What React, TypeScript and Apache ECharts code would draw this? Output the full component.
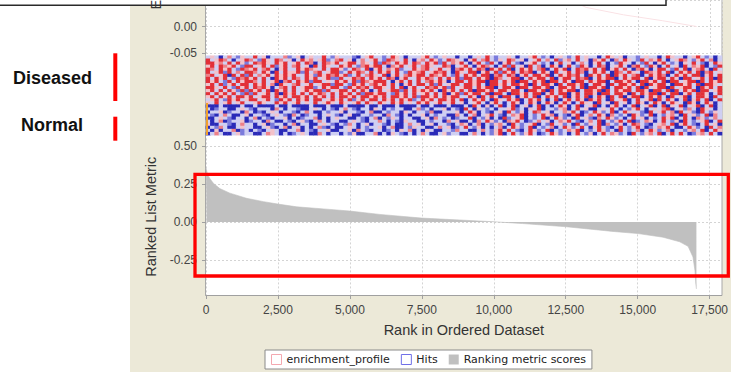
import { useEffect, useRef } from 'react';
import * as echarts from 'echarts';

// ---------- data ----------
const rankMax = 17917;
const xTickValues = [0, 2500, 5000, 7500, 10000, 12500, 15000, 17500];
const metricTicks = [-0.25, 0, 0.25, 0.5];

// Ranking metric scores (rank, value)
const metricRanks = [0, 20, 60, 140, 255, 480, 830, 1410, 2000, 2500, 3150, 4300, 5000, 6040, 7490, 9980, 11000, 12520, 14140, 15010, 15880, 16460, 16750, 16920, 16990, 17015, 17040];
const metricValues = [0.355, 0.34, 0.31, 0.285, 0.255, 0.22, 0.19, 0.156, 0.134, 0.118, 0.1, 0.083, 0.072, 0.05, 0.026, 0.002, -0.01, -0.031, -0.062, -0.076, -0.1, -0.13, -0.16, -0.23, -0.32, -0.4, -0.44];

// faint visible tail of the enrichment profile
const esRanks = [11800, 13200, 14500, 15840, 17040];
const esValues = [0.07, 0.036, 0.022, 0.011, 0.0];

// heatmap levels: B dark blue, b blue, l lavender, p pink, r light red, R red
const levelKeys = ['B', 'b', 'l', 'p', 'r', 'R'];
const levelColors = ['#2a2ab8', '#7b7bdc', '#cfcff2', '#f3c2ca', '#ee8088', '#e23038'];

const diseasedRows = [
  'lplBlrlbpl lRlpBlllrb lpBlpllRlb plllbBlpRl lblRplBlll pRlblpllBl lBlplRlbll plBllpRlbl BlplblRlpl lBlRplpBll blpllBlRpl lBlpRlblBl',
  'RlpRrlBlpR rlbRplRrlp BlRprlpRbl rRlpBlrlpR lbRrplRlBp rlRpblRrpl BpRlrRlbpl RrlpBlpRlr lRbprlRlpB rpRlBrlRpl bRlrpRlBlp RrlbpRlrBl',
  'RRprlRlRpb lRrRplRpRl pRlRrBlRrp RlpRRlrplR bRrlRpRlRr lRpRbRlrpR lBpRlbRlBp RlbBlpRlbl BlRlpBlrlB pRlBlbRplB lbRlBpRlbl BplRlbBlRp',
  'pRlRrpRlbR RlpRlRbpRl rRlpBRlRpl lRpRlbrRpR RlBrpRlpRl rRpllRrBlp RlBpRrlBlR bRlpBRlrBl RpBlRlbRpB lRrBlpRlBr RlbRpBlRlp BRlrpRBlbR',
  'RrlRpRlbRr pRlrRlBpRl lRpRrplRlR RpblRrlRBp RlrpRbllRp rRlpRlpBrR pRlRrBRpRl RBlRpRlrRB lRpRBlRrRp RlRBpRlRlB rRpBlRRlbR lRBprRlBRl',
  'RlpRbRlrlR RrlRpBRlRp pRbRlrRlpR RblRpRrlRl RpRlRlbRpr RlpRrRlBRp lRRBpRlRbR pRlRrRBlRp BRlpRlRrBl RpRlBRrlRp lBRrpRlRBl RpRlRBrRlp',
  'rRlpRBRlRb RlrpRlRpRp RllRpbRpRr RpRblRlrRp lRBpRlrRpR RlRrpRlbRl RpRlRRBrRl RrBpRlRRpR BlRpRrRlBR pRlRBRpRlr RBlRpRrBlR pRlRRBpRlR',
  'RlRpRlbRrR pRlRlBRpRl RrlRpRlpRb bRlpRrRlRp RlRrBpRllR pRrlRlRpRb RRlRpRBRrl pRRBlRpRRl RBpRRlRrRB lRpRRBlRpR RlRBpRRlRp BRRlpRlRBR',
  'RpRlbRlRpR RrlRlpRBrR lRpRbRRlpl RpRlRbRrpR RRlBpRlRlR lrRpRpBlRR lRpRRBRRlR pRBRRlRpRB RRlRpBRRlR pRRBlRRpRl BRRpRlRBRR lpRRBRlRpR',
  'pRlRbpRlRR lRpRlrBRpl rRlpRlpRRb RRlbRpRlrR pRlRlBpRlR RlRbRlpRRl RRpRlBRRpR lRRpRBRlRR pBRlRRpRBl RRpBRlRRpR lRBRpRRlBR RpRlRBRRpl',
  'RRplRlbRpR lRrRpBlrRl RlpRRblRpR RlbRpRrRlR RplRlRBpRl lRrRpRbRlp RRlRpRRBlR RpBRRlRRpR BlRRpRlRBR RpRBlRRpRl RBRlpRRBRl pRRlBRpRlR',
  'pRlRlRpbRb RpRlRBRpRl RlpRpRRbRl pRRlRlRpBl RlpRRbRlRp RpRlBRpRlR lRBRRpRlRR pRRlBRRpRB RlRpRRBlRR pRBRlRpRRl RRpBRRlRBR lRpRBRRlpR',
  'RlRpRlRlbR bRlpRlRBRp RlRlRpRrlR lRpRlRbRRp RRlbRpRlRl pRlRlRBpRb RpRRlRBRRl BRRpRlRRBp RlRRBpRlRR pBRRlRRpBR lRpRRBRlRR BpRlRRpBlR',
  'pRlRpRlRRp RlpRRlRpRl RRpRlRpRlR lRRpRlRRpR pRlRRpRlRb RRpRlRpRRl lRpBRlRpBR RlBpRlRBlR pRlRBpRlRB lRpBRlRBpR RBlRpRlBRl pRBlRRpBRl',
  'lpRlbRpRlp RRlpRlbRpR lRpRlRRlpR pRlRbpRlRR lRpRlRpRbl RpRlRRpRlR BlRpRlBRpl RpRBlRpRlB lRBpRlRpBR pRlBRlpRBl RlpRBRlRpB lRBpRlRBlR',
  'plRlpRlpRl lpRpllRpRl pRlplRlpRp lRplpRlRpl RplRpRlplR pRlpRlpRlp BlpRlBpRlB lRpBlRpBlR pBlRpBlRpl BRlpBRlpBl RpBlRpBlRp lBRpBlRpBl',
];

const normalRows = [
  'BBBlBBBBlB BlBBBBlBBl BBBBlBBBlB BBlBBBBlBB lBBBlBBBBl BBlBBBlBBB lBRlBpBlRB lRBlpBlRBl BlRpBlRBlp RBlBpRlBlR BlpRBlRBpl RBlpRBlRBl',
  'lBbllBBlpl bBlllBrlBl lbBBlplBlb BlrlbBllBp lBlbllBBlr blBllpBlbB RlBplblBll pRblBplRBl lbprBlRlpB BlplRlBlbp RlBlplrRBl pbrlBRplBl',
  'BllpBbllBr lBbBlplBll bBlrlBBlbl lpBllbBlrB BlbllBplBl lbrBBlllpB lRpBlbBlpB RlbpBlRrlp BllrpRlBbl RpblRBlRpl lbBRlpRlrB RlpbBRlbpl',
  'lbBlrlBBlp BllbBlplbB rlBbllBlpl bBlpBBllbl lBrlbBlBll pBlbllBBrl BlrBlpRlbB lrpRBlblRp rBlbBpRBlr lRpBrlblBR pblRBlbprl BRlpblRBrl',
  'BBlplbBllB lrBlbBllpB lBbllrBlBl pllBBlbBlr BlbplBllBB lpBrlblBbl lRBlbpBlBR blpRBlblRB lRpblBRlpb BrlRpblBlR lpBlblRpRB lRlBrpblrl',
  'lBlrBbllpB bllBrlBBlb BlpbBlrlBl lBBlplbBll rlBlbBpllB BlbllBrlpB BlBrlRpblB rpRlBblrlp BlrpRlbBlr lRBlbpRlRB blrpBlRlbp BRlblpRBlR',
  'pBBllbBlrl lBlpBbllBl rBllBBlplb BlbrlBlpBl lbBlBBlrlp BlpBllbBlr pBlrBlbprl BRlblpRBlb RlpblBRlbp lRBrlbpBlR rlbBlprlRB pRlbBlRlpB',
  'BlbrlBBlpl lBBlpbBlrB lpBlBlrbBl BBlplBlbll pBlrBBlbpl lBBlrlpBbl RlbpBlBlrB lRpblRBlbl rBlRpblRlB pRlbBlRlbp RlBblrpRlB BlRpblBRlr',
  'lBpBllrBbl BlbBlplBBl lrBlbBllpB BllpBrlbBl lBblBplrBl BplBBllbrl lBBlrlbpRl RlbBlRpblR BlblrpRBlb lRpblBRlbl rBlRpblrBl lbprlRBlRp',
  'BlrlBBlpbl lBBlrplBlB blplBBrlBl lBlbpBBllr BlBplbBlBl rlBBlpbllB BlrlBlbpRB lRlbpRlBbl RpblBlRlbp BlRlrpblBR lbprlRBlRl RlBbprlRlB',
];

const groupLabels = ['Diseased', 'Normal'];

// ---------- build ----------
const heatRows = [...diseasedRows, ...normalRows].map((r) => r.replace(/ /g, ''));
const nCols = Math.max(...heatRows.map((r) => r.length));
const heatCols = Array.from({ length: nCols }, (_, i) => String(i));
const heatRowNames = heatRows.map((_, i) => String(i));
const heatData: number[][] = [];
heatRows.forEach((row, y) => {
  row.split('').forEach((ch, x) => {
    heatData.push([x, y, levelKeys.indexOf(ch)]);
  });
});

const metricData = metricRanks.map((r, i) => [r, metricValues[i]]);
const esData = esRanks.map((r, i) => [r, esValues[i]]);

const AX_FONT = '"Liberation Sans", Arial, sans-serif';
const tickLabel = { fontFamily: AX_FONT, fontSize: 12, color: '#444' };
const splitLine = { show: true, lineStyle: { color: '#d4d4d4', type: [2, 2] as any, width: 1 } };
const tickStyle = { show: true, length: 4, lineStyle: { color: '#a0a0a0' } };

export default function App() {
  const ref = useRef<HTMLDivElement>(null);

  useEffect(() => {
    if (!ref.current) return;
    const chart = echarts.init(ref.current, null, { renderer: 'svg' });
    const option: any = {
      animation: false,
      backgroundColor: '#ffffff',
      grid: [
        { left: 206, top: -1, width: 516, height: 54 },
        { left: 206, top: 55.7, width: 516, height: 79.5 },
        { left: 206, top: 138.4, width: 516, height: 156.6 },
      ],
      xAxis: [
        {
          gridIndex: 0, type: 'value', min: 0, max: rankMax, interval: 2500,
          axisLine: { show: false }, axisTick: { show: false }, axisLabel: { show: false }, splitLine,
        },
        { gridIndex: 1, type: 'category', data: heatCols, show: false },
        {
          gridIndex: 2, type: 'value', min: 0, max: rankMax, interval: 2500,
          axisLine: { show: true, onZero: false, lineStyle: { color: '#a0a0a0' } },
          axisTick: tickStyle,
          axisLabel: {
            ...tickLabel, margin: 9, showMaxLabel: false,
            formatter: (v: number) => (xTickValues.includes(v) ? v.toLocaleString('en-US') : ''),
          },
          splitLine,
          name: 'Rank in Ordered Dataset', nameLocation: 'middle', nameGap: 27,
          nameTextStyle: { fontFamily: AX_FONT, fontSize: 14.5, color: '#333' },
        },
      ],
      yAxis: [
        {
          gridIndex: 0, type: 'value', min: -0.05, max: 0.05, interval: 0.05,
          axisLine: { show: false }, axisTick: tickStyle,
          axisLabel: { ...tickLabel, margin: 9, showMaxLabel: false, formatter: (v: number) => v.toFixed(2) },
          splitLine,
        },
        { gridIndex: 1, type: 'category', data: heatRowNames, inverse: true, show: false },
        {
          gridIndex: 2, type: 'value', min: -0.48, max: 0.55,
          axisLine: { show: false },
          axisTick: { ...tickStyle, customValues: metricTicks },
          axisLabel: { ...tickLabel, margin: 9, customValues: metricTicks, formatter: (v: number) => v.toFixed(2) },
          splitLine,
          name: 'Ranked List Metric', nameLocation: 'middle', nameGap: 46, nameRotate: 90,
          nameTextStyle: { fontFamily: AX_FONT, fontSize: 14.5, color: '#333' },
        },
      ],
      visualMap: {
        type: 'piecewise', show: false, seriesIndex: 1, dimension: 2,
        pieces: levelColors.map((c, i) => ({ value: i, color: c })),
      },
      legend: {
        left: 265, top: 350, orient: 'horizontal',
        padding: [4, 6, 4, 6], itemWidth: 10, itemHeight: 10, itemGap: 11,
        backgroundColor: '#ffffff', borderColor: '#8a8a8a', borderWidth: 1,
        selectedMode: false,
        textStyle: { fontFamily: '"DejaVu Sans", sans-serif', fontSize: 11, color: '#222' },
        data: [
          { name: 'enrichment_profile', icon: 'rect', itemStyle: { color: '#ffffff', borderColor: '#f4a8b0', borderWidth: 1 } },
          { name: 'Hits', icon: 'rect', itemStyle: { color: '#ffffff', borderColor: '#7070e8', borderWidth: 1 } },
          { name: 'Ranking metric scores', icon: 'rect', itemStyle: { color: '#c0c0c0', borderWidth: 0 } },
        ],
      },
      series: [
        {
          name: 'enrichment_profile', type: 'line', xAxisIndex: 0, yAxisIndex: 0,
          data: esData, symbol: 'none', lineStyle: { color: '#fae2e5', width: 1 }, itemStyle: { color: '#fae2e5' },
        },
        {
          name: 'Hits', type: 'heatmap', xAxisIndex: 1, yAxisIndex: 1,
          data: heatData, progressive: 0, itemStyle: { borderWidth: 0 }, emphasis: { disabled: true },
        },
        {
          name: 'Ranking metric scores', type: 'line', xAxisIndex: 2, yAxisIndex: 2,
          data: metricData, symbol: 'none',
          lineStyle: { color: '#c0c0c0', width: 0.6 }, itemStyle: { color: '#c0c0c0' },
          areaStyle: { color: '#c0c0c0', opacity: 1, origin: 'auto' },
        },
      ],
      graphic: [
        { type: 'rect', z: -20, shape: { x: 130, y: 0, width: 601, height: 372 }, style: { fill: '#ece9d8' } },
        { type: 'rect', z: -10, shape: { x: 205.5, y: -2, width: 516.5, height: 297.5 }, style: { fill: '#ffffff', stroke: '#a8a8a8', lineWidth: 1 } },
        { type: 'rect', z: 10, shape: { x: 206, y: 103, width: 2, height: 32 }, style: { fill: '#eea030' } },
        { type: 'rect', z: 100, shape: { x: -2, y: -2, width: 668, height: 7.2 }, style: { fill: '#ffffff', stroke: '#2a2a2a', lineWidth: 1.5 } },
        {
          type: 'text', z: 101, x: 155.5, y: 9.5, rotation: Math.PI / 2,
          style: { text: 'Enrichment score (ES)', fontFamily: AX_FONT, fontSize: 14.5, fill: '#333', align: 'left', verticalAlign: 'middle', textAlign: 'left', textVerticalAlign: 'middle' },
        },
        { type: 'rect', z: 50, shape: { x: 195, y: 174.3, width: 533.3, height: 101.7 }, style: { fill: 'none', stroke: '#ff0000', lineWidth: 3.3 } },
        { type: 'rect', z: 50, shape: { x: 113.3, y: 53.3, width: 4, height: 47.7 }, style: { fill: '#ff0000' } },
        { type: 'rect', z: 50, shape: { x: 113.3, y: 116.7, width: 4, height: 24 }, style: { fill: '#ff0000' } },
        {
          type: 'text', z: 50, x: 52.5, y: 77.7,
          style: { text: groupLabels[0], fontFamily: AX_FONT, fontSize: 18, fontWeight: 'bold', fill: '#111', align: 'center', verticalAlign: 'middle', textAlign: 'center', textVerticalAlign: 'middle' },
        },
        {
          type: 'text', z: 50, x: 52, y: 125,
          style: { text: groupLabels[1], fontFamily: AX_FONT, fontSize: 18, fontWeight: 'bold', fill: '#111', align: 'center', verticalAlign: 'middle', textAlign: 'center', textVerticalAlign: 'middle' },
        },
      ],
    };
    chart.setOption(option);
    return () => chart.dispose();
  }, []);

  return <div ref={ref} style={{ position: 'fixed', left: 0, top: 0, width: 731, height: 372 }} />;
}
